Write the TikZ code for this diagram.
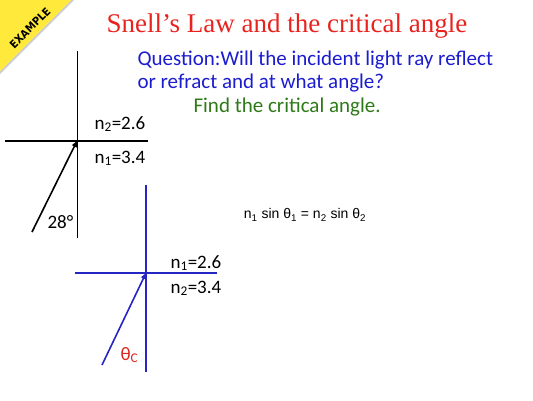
\documentclass[tikz,border=0pt]{standalone}
\usepackage{fontspec}
\setmainfont{Carlito}
\newfontfamily\titlefont{Liberation Serif}
\newfontfamily\eqfont{Liberation Sans}
\newfontfamily\bannerfont{DejaVu Sans Condensed}
\usepackage{xcolor}
\usetikzlibrary{arrows.meta}
\definecolor{bannercolor}{HTML}{FFE93A}
\definecolor{titlecolor}{HTML}{E8231E}
\definecolor{questioncolor}{HTML}{1C1CCF}
\definecolor{findcolor}{HTML}{2F7A18}
\definecolor{raycolor}{HTML}{2525C4}
\definecolor{anglecolor}{HTML}{D9231E}

\begin{document}
\begin{tikzpicture}[x=1pt, y=-1pt,
    idxtext/.style = {anchor = base west, font = \fontsize{19}{19}\selectfont},
    ray/.style = {-{Triangle[length = 6pt, width = 5pt]}, line width = 1.6pt}]
        \useasboundingbox (0, 0) rectangle (533, 400);

        % Banner
        \fill [black!20] (0, 71) -- (71, 0) -- (74, 0) -- (0, 74) -- cycle;
        \fill [bannercolor] (0, 0) -- (71, 0) -- (0, 71) -- cycle;
        \node [rotate = 45, inner sep = 0pt, font = \bannerfont\bfseries\fontsize{11}{11}\selectfont] (banner) at (30, 28) {EXAMPLE};

        % Texts
        \node [anchor = base, text = titlecolor, font = \titlefont\fontsize{27}{27}\selectfont] (title) at (287, 32) {Snell’s Law and the critical angle};
        \node [anchor = base west, text = questioncolor, font = \fontsize{21}{21}\selectfont] (question1) at (134, 65) {Question:Will the incident light ray reflect};
        \node [anchor = base west, text = questioncolor, font = \fontsize{21}{21}\selectfont] (question2) at (134, 88) {or refract and at what angle?};
        \node [anchor = base west, text = findcolor, font = \fontsize{21}{21}\selectfont] (find) at (190, 112) {Find the critical angle.};
        \node [font = \eqfont\fontsize{14}{14}\selectfont] (snell) at (305, 215) {n\textsubscript{1} sin θ\textsubscript{1} = n\textsubscript{2} sin θ\textsubscript{2}};

        % Black diagram
        \coordinate (top1) at (77, 51);
        \coordinate (bottom1) at (77, 238);
        \coordinate (left1) at (5, 141);
        \coordinate (right1) at (148, 141);
        \coordinate (hit1) at (77, 141);
        \coordinate (src1) at (32, 232);
        \draw [line width = 0.9pt] (top1) -- (bottom1);
        \draw [line width = 1.6pt] (left1) -- (right1);
        \draw [ray] (src1) -- (hit1);
        \node [idxtext] (upper1) at (91, 129) {n\textsubscript{2}=2.6};
        \node [idxtext] (lower1) at (91, 163) {n\textsubscript{1}=3.4};
        \node [idxtext] (angle1) at (44, 228) {28°};

        % Blue diagram
        \coordinate (top2) at (146, 185);
        \coordinate (bottom2) at (146, 372);
        \coordinate (left2) at (75, 273);
        \coordinate (right2) at (217, 273);
        \coordinate (hit2) at (146, 273);
        \coordinate (src2) at (102, 365);
        \draw [raycolor, line width = 1.8pt] (top2) -- (bottom2);
        \draw [raycolor, line width = 1.8pt] (left2) -- (right2);
        \draw [ray, raycolor] (src2) -- (hit2);
        \node [idxtext] (upper2) at (167, 268) {n\textsubscript{1}=2.6};
        \node [idxtext] (lower2) at (167, 293) {n\textsubscript{2}=3.4};
        \node [idxtext, text = anglecolor] (angle2) at (117, 360) {θ\textsubscript{C}};
\end{tikzpicture}
\end{document}
